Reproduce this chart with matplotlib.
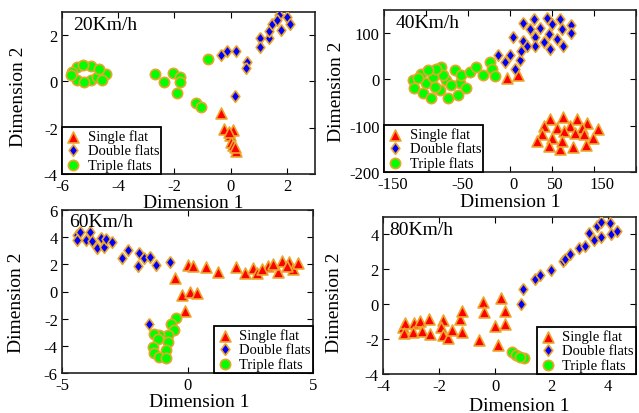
import matplotlib
matplotlib.use('Agg')
import matplotlib.pyplot as plt

plt.rcParams['font.family'] = ['Liberation Serif', 'DejaVu Serif']
plt.rcParams['axes.unicode_minus'] = False

# ---- 20Km/h ----
s20_single_x = [-0.33, -0.25, 0.08, -0.04, 0.02, 0.08, 0.2, 0.14, -0.06]
s20_single_y = [-1.38, -2.05, -2.1, -2.3, -2.6, -2.75, -3.0, -2.85, -2.2]
s20_double_x = [-0.33, -0.12, 0.2, 0.58, 0.56, 0.16, 1.06, 1.06, 1.37, 1.37, 1.46, 1.73, 1.78, 2.02, 2.11, 1.64]
s20_double_y = [1.16, 1.3, 1.3, 0.82, 0.56, -0.62, 1.88, 1.49, 1.88, 2.17, 2.46, 2.89, 2.21, 2.79, 2.5, 2.64]
s20_triple_x = [-5.45, -4.98, -5.45, -4.98, -4.44, -4.74, -5.63, -5.27, -4.68, -5.21, -5.69, -4.56,
                -2.68, -2.38, -2.06, -1.82, -1.82, -1.92, -1.23, -1.05, -0.79]
s20_triple_y = [0.63, 0.67, 0.06, 0.06, 0.34, 0.2, 0.41, 0.70, 0.55, -0.04, 0.27, 0.06,
                0.30, -0.01, 0.38, 0.2, -0.04, -0.52, -0.92, -1.12, 0.96]

# ---- 40Km/h ----
s40_single_x = [-4.0, 10.0, 47.9, 63.1, 79.9, 91.9, 104.6, 39.9, 55.9, 71.9, 85.9, 37.9, 49.9, 63.9,
                77.8, 88.6, 99.0, 32.0, 45.9, 59.9, 75.1, 91.0, 61.9]
s40_single_y = [2.1, 9.2, -86.5, -81.6, -86.5, -93.6, -107.8, -100.7, -104.3, -100.7, -104.3, -118.4,
                -125.5, -111.3, -114.9, -118.4, -125.5, -132.6, -143.3, -150.4, -146.8, -141.8, -132.6]
s40_double_x = [-14.0, -6.0, 0.0, 6.0, 12.0, 13.2, 4.0, 15.2, 15.2, 24.0, 29.1, 29.9, 29.9, 35.9, 39.9,
                43.9, 45.9, 47.9, 49.9, 55.9, 59.9, 61.9, 63.1, 72.7, 72.7, 19.9]
s40_double_y = [51.8, 37.6, 51.8, 23.4, 41.1, 62.4, 90.8, 122.7, 83.7, 108.5, 129.8, 90.8, 73.0, 112.1, 80.1,
                133.4, 97.9, 66.0, 119.1, 87.2, 129.8, 108.5, 71.6, 117.7, 99.3, 73.0]
s40_triple_x = [-115.8, -113.8, -103.8, -105.8, -99.8, -91.8, -93.8, -81.8, -83.8, -75.8, -73.9, -65.9,
                -61.9, -59.9, -57.9, -51.9, -47.9, -39.9, -31.9, -24.0, -21.9, -18.0, -109.8, -89.8,
                -79.8, -69.9, -87.8, -97.8]
s40_triple_y = [-1.4, -19.1, -29.8, 12.8, -8.5, 5.7, -40.4, 27.0, -22.8, -1.4, -40.4, 19.8,
                -33.3, -8.5, 9.2, -19.1, 16.3, 27.0, 9.2, 37.6, 23.4, 7.1, 2.1, -15.6,
                9.2, -12.1, 23.4, 19.8]
s40_xtick_labels = ['-150', '-50', '0', '50', '150']
s40_xtick_label_at = [-140, -56, 4, 54, 110]

# ---- 60Km/h ----
s60_single_x = [0.0, 0.21, 0.75, 1.21, 1.95, 2.28, 2.59, 2.75, 3.21, 2.95, 3.61, 3.75, 4.05, 4.21, 4.41,
                3.41, 3.95, -0.48, -0.21, 0.08, 0.39, -0.08]
s60_single_y = [1.98, 1.9, 1.78, 1.41, 1.78, 1.34, 1.73, 1.34, 1.9, 1.65, 1.41, 2.22, 2.14, 1.65, 2.07,
                2.03, 1.85, 1.0, -0.29, -0.05, -0.12, -1.44]
s60_double_x = [-4.39, -4.29, -4.39, -4.05, -3.89, -3.79, -3.59, -3.45, -3.32, -3.25, -2.99, -2.61, -2.39,
                -1.92, -1.99, -1.72, -1.48, -1.25, -0.71, -1.55]
s60_double_y = [4.17, 4.41, 3.8, 3.8, 4.41, 3.73, 3.19, 3.97, 3.29, 3.90, 3.66, 2.46, 3.04,
                2.87, 1.9, 2.46, 2.56, 1.95, 2.14, -2.41]
s60_triple_x = [-0.45, -0.65, -0.52, -0.79, -0.79, -1.12, -1.32, -1.19, -1.39, -1.32, -1.12, -0.85, -0.85]
s60_triple_y = [-1.93, -2.37, -2.86, -3.22, -3.71, -3.22, -3.1, -3.47, -4.07, -4.56, -4.81, -4.32, -4.93]

# ---- 80Km/h ----
s80_single_x = [-3.3, -3.2, -3.26, -2.91, -2.94, -2.67, -2.61, -2.38, -2.32, -1.88, -1.93, -1.85, -1.7,
                -1.53, -1.26, -1.2, -1.2, -0.59, -0.43, -0.4, 0.0, 0.09, 0.19, 0.35, 0.33]
s80_single_y = [-1.33, -1.05, -1.66, -1.05, -1.62, -0.95, -1.52, -0.86, -1.71, -0.89, -1.33, -1.77, -1.94,
                -1.46, -0.86, -0.38, -1.62, -2.03, 0.13, -0.47, -1.23, -2.32, 0.33, -0.38, -1.14]
s80_double_x = [0.92, 0.98, 1.39, 1.6, 1.98, 2.39, 2.48, 2.66, 2.98, 3.18, 3.33, 3.51, 3.6, 3.75, 3.77,
                4.07, 4.1, 4.31]
s80_double_y = [0.0, 0.86, 1.43, 1.66, 1.96, 2.48, 2.6, 2.86, 3.24, 3.34, 4.1, 3.71, 4.48, 4.71, 3.87,
                4.63, 4.0, 4.19]
s80_triple_x = [0.59, 0.74, 1.01, 0.88]
s80_triple_y = [-2.76, -2.91, -3.08, -3.0]

EDGE = '#eba52a'
diamond = [(0, 1), (0.75, 0), (0, -1), (-0.75, 0), (0, 1)]


def make_axes(fig, l, t, r, b):
    W, H = 639.0, 414.0
    return fig.add_axes([l / W, 1 - b / H, (r - l) / W, (b - t) / H])


def draw(ax, single, double, triple, speed, loc):
    ax.scatter(single[0], single[1], s=62, marker='^', c='#ff0000', edgecolors=EDGE, linewidths=1.2,
               label='Single flat', zorder=3)
    ax.scatter(double[0], double[1], s=70, marker=diamond, c='#0000ff', edgecolors=EDGE, linewidths=1.2,
               label='Double flats', zorder=3)
    ax.scatter(triple[0], triple[1], s=55, marker='o', c='#00ff00', edgecolors=EDGE, linewidths=1.2,
               label='Triple flats', zorder=3)
    leg = ax.legend(loc=loc, borderaxespad=0, fancybox=False, framealpha=1, edgecolor='k',
                    fontsize=10.5, handletextpad=0.4, labelspacing=0.05, borderpad=0.15,
                    handlelength=1.2, scatterpoints=1)
    leg.get_frame().set_linewidth(1.3)
    ax.text(0.045, 0.92, speed, transform=ax.transAxes, fontsize=14, ha='left', va='center', zorder=5)
    ax.tick_params(direction='in', top=True, right=True, length=4, labelsize=12, pad=3, width=0.8)
    ax.tick_params(which='minor', direction='in', top=True, right=True, length=4, width=0.8)
    for sp in ax.spines.values():
        sp.set_linewidth(1.2)
        sp.set_color('#222222')
    ax.set_xlabel('Dimension 1', fontsize=14)
    ax.set_ylabel('Dimension 2', fontsize=14)


fig = plt.figure(figsize=(6.39, 4.14), dpi=100)

ax1 = make_axes(fig, 62, 13, 315, 175)
draw(ax1, (s20_single_x, s20_single_y), (s20_double_x, s20_double_y), (s20_triple_x, s20_triple_y),
     '20Km/h', 'lower left')
ax1.set_xlim(-6, 3)
ax1.set_ylim(-4, 3)
ax1.set_xticks([-6, -4, -2, 0, 2])
ax1.set_yticks([-4, -2, 0, 2])
ax1.xaxis.set_label_coords(0.518, -0.125)
ax1.yaxis.set_label_coords(-0.138, 0.48)

ax2 = make_axes(fig, 384, 11, 636, 173)
draw(ax2, (s40_single_x, s40_single_y), (s40_double_x, s40_double_y), (s40_triple_x, s40_triple_y),
     '40Km/h', 'lower left')
ax2.set_xlim(-150, 150)
ax2.set_ylim(-200, 150)
ax2.set_xticks(s40_xtick_label_at, s40_xtick_labels)
ax2.tick_params(axis='x', which='major', length=0)
ax2.set_xticks(range(-150, 151, 50), minor=True)
ax2.set_yticks([-200, -100, 0, 100])
ax2.xaxis.set_label_coords(0.5, -0.13)
ax2.yaxis.set_label_coords(-0.155, 0.5)

ax3 = make_axes(fig, 62, 211, 313, 374)
draw(ax3, (s60_single_x, s60_single_y), (s60_double_x, s60_double_y), (s60_triple_x, s60_triple_y),
     '60Km/h', 'lower right')
ax3.set_xlim(-5, 5)
ax3.set_ylim(-6, 6)
ax3.set_xticks([-5, 0, 5])
ax3.set_yticks([-6, -4, -2, 0, 2, 4, 6])
ax3.texts[0].set_position((0.03, 0.93))
ax3.xaxis.set_label_coords(0.546, -0.12)
ax3.yaxis.set_label_coords(-0.147, 0.44)

ax4 = make_axes(fig, 383, 218, 636, 375)
draw(ax4, (s80_single_x, s80_single_y), (s80_double_x, s80_double_y), (s80_triple_x, s80_triple_y),
     '80Km/h', 'lower right')
ax4.set_xlim(-4, 5)
ax4.set_ylim(-4, 5)
ax4.set_xticks([-4, -2, 0, 2, 4])
ax4.set_yticks([-4, -2, 0, 2, 4])
ax4.texts[0].set_position((0.025, 0.92))
ax4.xaxis.set_label_coords(0.54, -0.145)
ax4.yaxis.set_label_coords(-0.158, 0.46)

fig.savefig('out.png', dpi=100)
